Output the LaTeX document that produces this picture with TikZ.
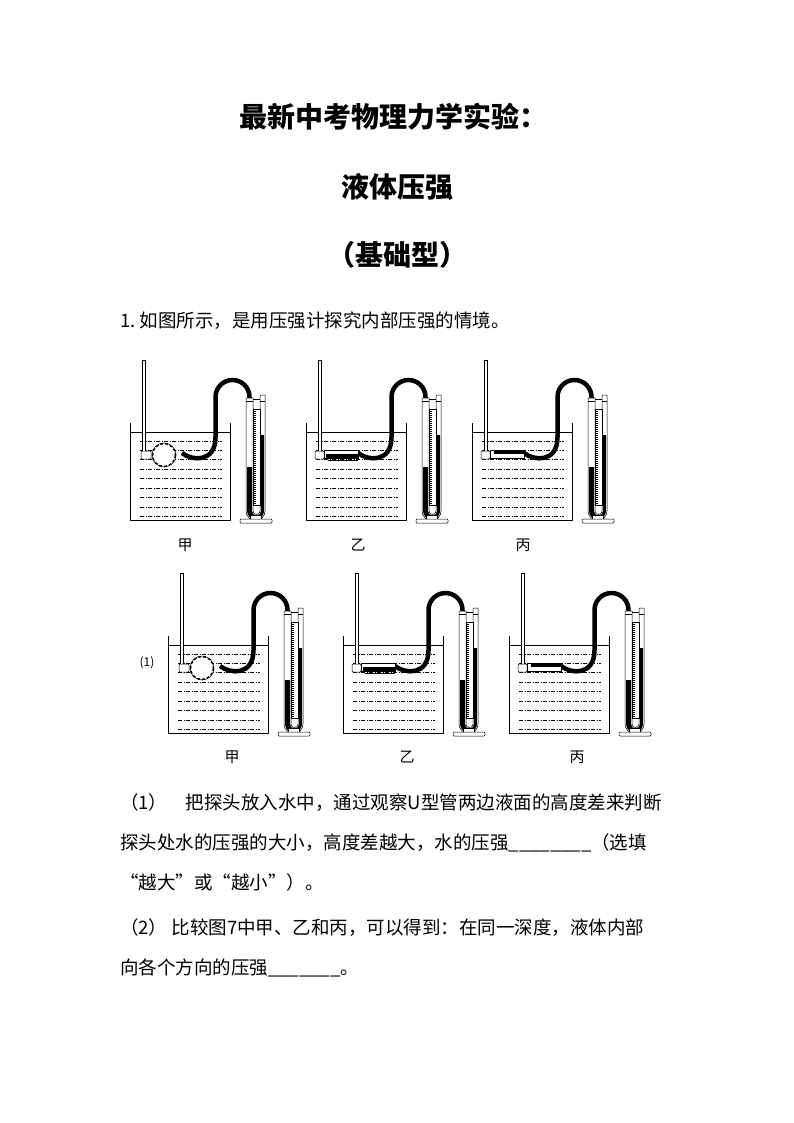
\documentclass[tikz,border=0pt]{standalone}
\usepackage{fontspec}
\setmainfont{Noto Sans CJK SC}
\begin{document}
\begin{tikzpicture}[x=1pt,y=-1pt,
  hose/.style={line width=4.5pt,black},
  thin/.style={line width=0.5pt,black},
  wline/.style={line width=0.5pt,dash pattern=on 4pt off 1.5pt on 1pt off 1.5pt},
  body/.style={anchor=west,font=\fontsize{18.5}{22}\selectfont,inner sep=0}]
\useasboundingbox (0,0) rectangle (794,1123);
\newcommand\app[3]{%
\begin{scope}[shift={(#1,#2)}]
 % tank
 \draw[thin] (0,0) -- (0,97) -- (100,97) -- (100,0);
 \draw[thin] (0,9) -- (100,9);
 \foreach \yy in {18,27,36,46,55,65,74,84,93} \draw[wline] (10,\yy) -- (92,\yy);
 % rod
 \draw[thin,fill=white] (12,-63) rectangle (15,28);
 % hose
 \draw[hose] (119.5,-24) -- (119.5,-26) arc[start angle=0,end angle=-180,radius=17] -- (85.5,14)
   .. controls (85.5,40) and (62,38) .. (52,30);
 % probe
 \ifcase#3
   \draw[thin,fill=white] (34,32) circle (12);
   \draw[dash pattern=on 3pt off 2pt,line width=1.4pt] (34,32) circle (11.5);
   \draw[thin,fill=white,rounded corners=1pt] (11,28) rectangle (21,36);
 \or
   \draw[thin,fill=white,rounded corners=1pt] (9,28) rectangle (18,36);
   \draw[thin,fill=white] (18,27) rectangle (52,35);
   \fill (20,31) rectangle (52,35);
   \draw[thin] (22,37) -- (52,37);
 \or
   \draw[thin,fill=white,rounded corners=1pt] (9,28) rectangle (18,36);
   \draw[thin,fill=white] (18,27) rectangle (52,35);
   \fill (22,27) rectangle (52,31);
 \fi
 % U tube
 \draw[thin,fill=white] (116,-25) -- (116,88) arc[start angle=180,end angle=0,radius=9.5] -- (135,-28) -- (130,-28) -- (130,88) arc[start angle=0,end angle=180,radius=3.5] -- (123,-25) -- cycle;
 \fill (117,44) -- (117,88) arc[start angle=180,end angle=0,radius=8.5] -- (134,12) -- (131,12) -- (131,88) arc[start angle=0,end angle=180,radius=4.5] -- (122,44) -- cycle;
 \draw[thin] (116,-22) -- (123,-22) (130,-22) -- (135,-22) (123,-24) -- (130,-24);
 \draw[thin,fill=white] (123,-14) rectangle (130,82);
 \foreach \k in {0,...,47} \draw[line width=0.3pt] (123,-12+2*\k) -- (126,-12+2*\k);
 \draw[thin,fill=white] (120,92) rectangle (131,96);
 \draw[thin,fill=white,rounded corners=1pt] (110,96) rectangle (142,100);
\end{scope}}
\app{130}{423}{0}
\app{306}{423}{1}
\app{472}{423}{2}
\app{168}{636}{0}
\app{343}{636}{1}
\app{509}{636}{2}
\node[font=\fontsize{28}{32}\selectfont\bfseries] (t1) at (393,117) {最新中考物理力学实验：};
\node[font=\fontsize{28}{32}\selectfont\bfseries] (t2) at (397,187) {液体压强};
\node[font=\fontsize{28}{32}\selectfont\bfseries] (t3) at (397,255) {（基础型）};
\node[body] (q) at (120,321) {1.\ 如图所示，是用压强计探究内部压强的情境。};
\foreach \n/\x/\y/\s in {a/185/545/甲,b/358/545/乙,c/523/545/丙,d/232/757/甲,e/407/757/乙,f/577/757/丙}
  \node[font=\fontsize{15}{17}\selectfont] (\n) at (\x,\y) {\s};
\node[font=\fontsize{12}{14}\selectfont] (one) at (147,663) {(1)};
\node[body] (p1) at (120,803) {（1）\quad 把探头放入水中，通过观察U型管两边液面的高度差来判断};
\node[body] (p2) at (120,843) {探头处水的压强的大小，高度差越大，水的压强\_\_\_\_\_\_\_\_（选填};
\node[body] (p3) at (120,882) {“越大”或“越小”）。};
\node[body] (p4) at (120,928) {（2）\ 比较图7中甲、乙和丙，可以得到：在同一深度，液体内部};
\node[body] (p5) at (120,968) {向各个方向的压强\_\_\_\_\_\_\_。};
\end{tikzpicture}
\end{document}
